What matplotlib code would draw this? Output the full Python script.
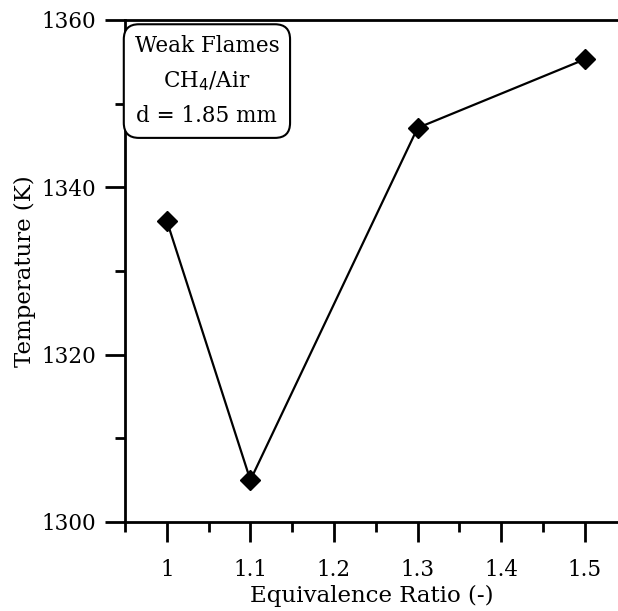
import matplotlib
matplotlib.use("Agg")
import matplotlib.pyplot as plt
from matplotlib.ticker import MultipleLocator

phi = [1.0, 1.1, 1.3, 1.5]
temperature = [1336.0, 1305.0, 1347.1, 1355.3]
xticks = [1.0, 1.1, 1.2, 1.3, 1.4, 1.5]
xticklabels = ["1", "1.1", "1.2", "1.3", "1.4", "1.5"]
yticks = [1300, 1320, 1340, 1360]

plt.rcParams['font.family'] = ['DejaVu Serif']

fig = plt.figure(figsize=(6.18, 6.11), dpi=100)
ax = fig.add_axes([125/618, 89/611, 493/618, 502/611])

ax.plot(phi, temperature, color='black', lw=1.6, marker='D', ms=10.5,
        markerfacecolor='black', markeredgecolor='black', zorder=3)

ax.set_xlim(0.95, 0.95 + 493/836)
ax.set_ylim(1300, 1360)
ax.set_xticks(xticks)
ax.set_xticklabels(xticklabels)
ax.set_yticks(yticks)
ax.xaxis.set_minor_locator(MultipleLocator(0.05))
ax.yaxis.set_minor_locator(MultipleLocator(10))

for s in ['left', 'bottom', 'top']:
    ax.spines[s].set_linewidth(2.0)
ax.spines['right'].set_visible(False)

ax.tick_params(axis='both', which='major', direction='out', length=14.5, width=2.0,
               labelsize=15.5)
ax.tick_params(axis='both', which='minor', direction='out', length=7.5, width=2.0)
ax.tick_params(axis='x', which='major', pad=12)
ax.tick_params(axis='y', which='major', pad=6)

ax.set_xlabel("Equivalence Ratio (-)", fontsize=16.5, labelpad=3)
ax.set_ylabel("Temperature (K)", fontsize=16.5, labelpad=4)

ax.text(1.048, 1352.7, "Weak Flames\nCH$_4$/Air\nd = 1.85 mm", fontsize=15.5,
        ha='center', va='center', linespacing=1.7,
        bbox=dict(boxstyle='round,pad=0.5,rounding_size=0.7', facecolor='white',
                  edgecolor='black', linewidth=1.5))

fig.savefig("out.png", dpi=100)
